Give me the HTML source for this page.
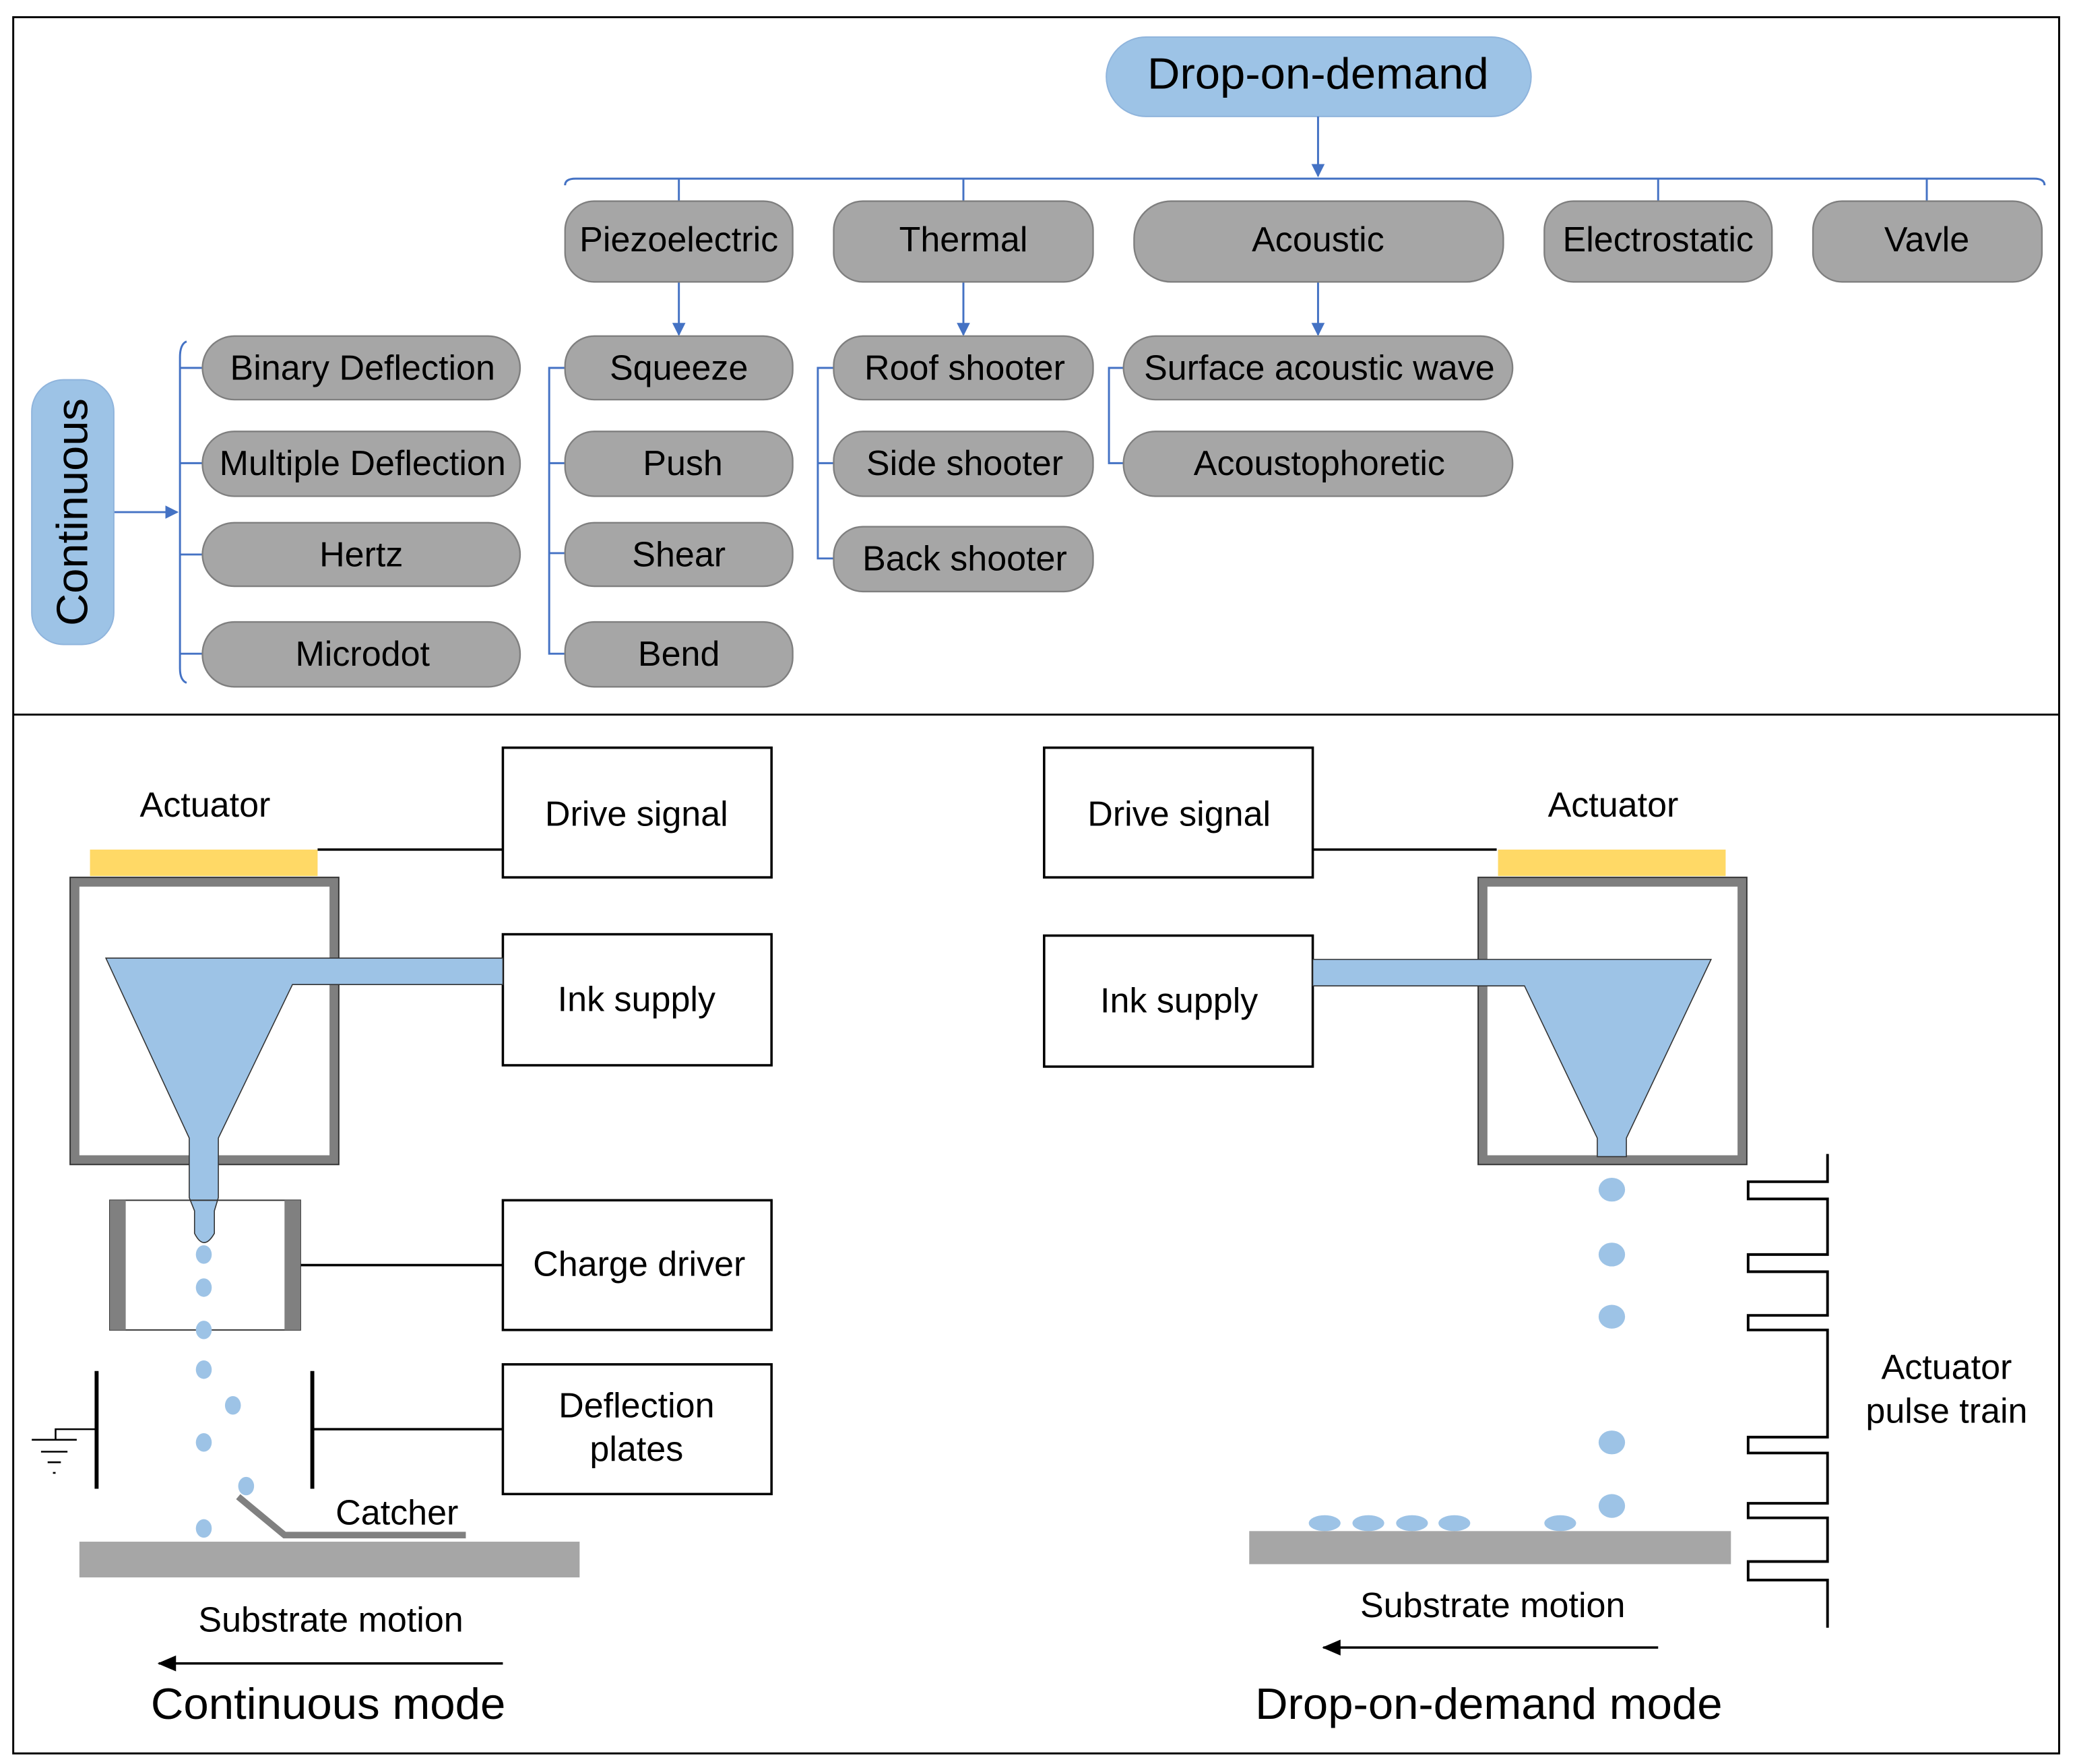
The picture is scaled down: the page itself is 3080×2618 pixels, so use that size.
<!DOCTYPE html>
<html><head><meta charset="utf-8"><style>
html,body{margin:0;padding:0;background:#fff}
svg{display:block}
text{font-family:"Liberation Sans",Arial,sans-serif;fill:#000}
</style></head><body>
<svg width="3080" height="2618" viewBox="0 0 1568 1333" preserveAspectRatio="none" xmlns="http://www.w3.org/2000/svg">
<defs>
<marker id="ab" markerWidth="10" markerHeight="10" refX="9" refY="5" orient="auto" markerUnits="userSpaceOnUse"><path d="M0,0 L10,5 L0,10 z" fill="#4472c4"/></marker>
<marker id="ak" markerWidth="14" markerHeight="12" refX="13" refY="6" orient="auto" markerUnits="userSpaceOnUse"><path d="M0,0 L14,6 L0,12 z" fill="#000"/></marker>
</defs>
<rect x="0" y="0" width="1568" height="1333" fill="#fff"/>
<rect x="10" y="13" width="1546" height="1312" fill="none" stroke="#000" stroke-width="1.5"/>
<line x1="10" y1="540" x2="1556" y2="540" stroke="#000" stroke-width="1.5"/>

<rect x="836" y="28" width="321" height="60" rx="30" fill="#9dc3e6" stroke="#8fb4dc"/>
<text x="996" y="67" font-size="33" text-anchor="middle" textLength="258" lengthAdjust="spacingAndGlyphs">Drop-on-demand</text>
<g stroke="#4472c4" stroke-width="1.5" fill="none">
<line x1="996" y1="88" x2="996" y2="133" marker-end="url(#ab)"/>
<path d="M427,140 Q427,135 435,135 L1537,135 Q1545,135 1545,140"/>
<line x1="513" y1="135" x2="513" y2="152"/><line x1="728" y1="135" x2="728" y2="152"/>
<line x1="1253" y1="135" x2="1253" y2="152"/><line x1="1456" y1="135" x2="1456" y2="152"/>
<line x1="513" y1="213" x2="513" y2="253" marker-end="url(#ab)"/>
<line x1="728" y1="213" x2="728" y2="253" marker-end="url(#ab)"/>
<line x1="996" y1="213" x2="996" y2="253" marker-end="url(#ab)"/>
<path d="M427,278 L415,278 L415,494 L427,494 M415,350 L427,350 M415,418 L427,418"/>
<path d="M630,278 L618,278 L618,422 L630,422 M618,350 L630,350"/>
<path d="M849,278 L838,278 L838,350 L849,350"/>
<path d="M141,258 Q136,260 136,270 L136,505 Q136,514 141,516 M136,278 L153,278 M136,350 L153,350 M136,419 L153,419 M136,494 L153,494"/>
<line x1="86" y1="387" x2="134" y2="387" marker-end="url(#ab)"/>
</g>
<rect x="24" y="287" width="62" height="200" rx="24" fill="#9dc3e6" stroke="#8fb4dc"/>
<text transform="translate(66,387) rotate(-90)" font-size="33" text-anchor="middle" textLength="172" lengthAdjust="spacingAndGlyphs">Continuous</text>
<g fill="#a6a6a6" stroke="#7f7f7f" stroke-width="1.2">
<rect x="427" y="152" width="172" height="61" rx="22"/>
<rect x="630" y="152" width="196" height="61" rx="22"/>
<rect x="857" y="152" width="279" height="61" rx="28"/>
<rect x="1167" y="152" width="172" height="61" rx="22"/>
<rect x="1370" y="152" width="173" height="61" rx="22"/>
<rect x="153" y="254" width="240" height="48" rx="24"/>
<rect x="153" y="326" width="240" height="49" rx="24"/>
<rect x="153" y="395" width="240" height="48" rx="24"/>
<rect x="153" y="470" width="240" height="49" rx="24"/>
<rect x="427" y="254" width="172" height="48" rx="22"/>
<rect x="427" y="326" width="172" height="49" rx="22"/>
<rect x="427" y="395" width="172" height="48" rx="22"/>
<rect x="427" y="470" width="172" height="49" rx="22"/>
<rect x="630" y="254" width="196" height="48" rx="22"/>
<rect x="630" y="326" width="196" height="49" rx="22"/>
<rect x="630" y="398" width="196" height="49" rx="22"/>
<rect x="849" y="254" width="294" height="48" rx="24"/>
<rect x="849" y="326" width="294" height="49" rx="24"/>
</g>
<g font-size="26.5" text-anchor="middle">
<text x="513" y="190">Piezoelectric</text><text x="728" y="190">Thermal</text>
<text x="996" y="190">Acoustic</text><text x="1253" y="190">Electrostatic</text>
<text x="1456" y="190">Vavle</text>
<text x="274" y="287">Binary Deflection</text><text x="274" y="359">Multiple Deflection</text>
<text x="273" y="428">Hertz</text><text x="274" y="503">Microdot</text>
<text x="513" y="287">Squeeze</text><text x="516" y="359">Push</text>
<text x="513" y="428">Shear</text><text x="513" y="503">Bend</text>
<text x="729" y="287">Roof shooter</text><text x="729" y="359">Side shooter</text>
<text x="729" y="431">Back shooter</text>
<text x="997" y="287">Surface acoustic wave</text><text x="997" y="359">Acoustophoretic</text>
</g>

<g font-size="26.5" text-anchor="middle">
<text x="155" y="617">Actuator</text>
<text x="481" y="624">Drive signal</text>
<text x="481" y="764">Ink supply</text>
<text x="483" y="964">Charge driver</text>
<text x="481" y="1071">Deflection</text><text x="481" y="1104">plates</text>
<text x="300" y="1152">Catcher</text>
<text x="250" y="1233">Substrate motion</text>
<text x="1219" y="617">Actuator</text>
<text x="891" y="624">Drive signal</text>
<text x="891" y="765">Ink supply</text>
<text x="1128" y="1222">Substrate motion</text>
<text x="1471" y="1042">Actuator</text><text x="1471" y="1075">pulse train</text>
</g>
<g font-size="33" text-anchor="middle">
<text x="248" y="1299" textLength="268" lengthAdjust="spacingAndGlyphs">Continuous mode</text>
<text x="1125" y="1299" textLength="353" lengthAdjust="spacingAndGlyphs">Drop-on-demand mode</text>
</g>
<g fill="none" stroke="#000" stroke-width="1.8">
<rect x="380" y="565" width="203" height="98"/>
<rect x="380" y="706" width="203" height="99"/>
<rect x="380" y="907" width="203" height="98"/>
<rect x="380" y="1031" width="203" height="98"/>
<rect x="789" y="565" width="203" height="98"/>
<rect x="789" y="707" width="203" height="99"/>
<line x1="240" y1="642" x2="380" y2="642"/>
<line x1="992" y1="642" x2="1131" y2="642"/>
<line x1="227" y1="956" x2="380" y2="956"/>
<line x1="236" y1="1080" x2="380" y2="1080"/>
<line x1="73" y1="1036" x2="73" y2="1125" stroke-width="3"/>
<line x1="236" y1="1036" x2="236" y2="1125" stroke-width="3"/>
<path d="M73,1080 L42,1080 L42,1088 M24,1088 L58,1088 M31,1097 L51,1097 M36,1105 L46,1105 M40,1113 L42,1113" stroke-width="1.3"/>
<line x1="380" y1="1257" x2="120" y2="1257" marker-end="url(#ak)"/>
<line x1="1253" y1="1245" x2="1000" y2="1245" marker-end="url(#ak)"/>
<path d="M1381,872 L1381,893 L1321,893 L1321,906 L1381,906 L1381,948 L1321,948 L1321,961 L1381,961 L1381,994 L1321,994 L1321,1005 L1381,1005 L1381,1086 L1321,1086 L1321,1098 L1381,1098 L1381,1136 L1321,1136 L1321,1147 L1381,1147 L1381,1180 L1321,1180 L1321,1194 L1381,1194 L1381,1230" stroke-width="2"/>
</g>
<rect x="68" y="642" width="172" height="20" fill="#ffd966"/>
<rect x="1132" y="642" width="172" height="20" fill="#ffd966"/>
<rect x="56.5" y="666.5" width="196" height="210" fill="none" stroke="#7f7f7f" stroke-width="7"/>
<rect x="53" y="663" width="203" height="217" fill="none" stroke="#333" stroke-width="1"/>
<rect x="1120.5" y="666.5" width="196" height="210" fill="none" stroke="#7f7f7f" stroke-width="7"/>
<rect x="1117" y="663" width="203" height="217" fill="none" stroke="#333" stroke-width="1"/>
<path d="M80,724 L380,724 L380,744 L221,744 L165,860 L165,905 L162,915 L162,932 Q154,946 147,932 L147,915 L143,905 L143,860 Z" fill="#9dc3e6" stroke="#333" stroke-width="0.8"/>
<rect x="83" y="907" width="144" height="98" fill="none" stroke="#333" stroke-width="1"/>
<rect x="83" y="907" width="12" height="98" fill="#808080"/>
<rect x="215" y="907" width="12" height="98" fill="#808080"/>
<g fill="#9dc3e6">
<ellipse cx="154" cy="948" rx="6" ry="7"/><ellipse cx="154" cy="973" rx="6" ry="7"/>
<ellipse cx="154" cy="1005" rx="6" ry="7"/><ellipse cx="154" cy="1035" rx="6" ry="7"/>
<ellipse cx="176" cy="1062" rx="6" ry="7"/><ellipse cx="154" cy="1090" rx="6" ry="7"/>
<ellipse cx="186" cy="1123" rx="6" ry="7"/><ellipse cx="154" cy="1155" rx="6" ry="7"/>
</g>
<polyline points="180,1131 215,1160 352,1160" fill="none" stroke="#808080" stroke-width="5"/>
<rect x="60" y="1165" width="378" height="27" fill="#a6a6a6"/>
<path d="M992,725 L1293,725 L1229,860 L1229,874 L1207,874 L1207,860 L1152,745 L992,745 Z" fill="#9dc3e6" stroke="#333" stroke-width="0.8"/>
<g fill="#9dc3e6">
<ellipse cx="1218" cy="899" rx="10" ry="9"/><ellipse cx="1218" cy="948" rx="10" ry="9"/>
<ellipse cx="1218" cy="995" rx="10" ry="9"/><ellipse cx="1218" cy="1090" rx="10" ry="9"/>
<ellipse cx="1218" cy="1138" rx="10" ry="9"/>
<ellipse cx="1001" cy="1151" rx="12" ry="6"/><ellipse cx="1034" cy="1151" rx="12" ry="6"/>
<ellipse cx="1067" cy="1151" rx="12" ry="6"/><ellipse cx="1099" cy="1151" rx="12" ry="6"/>
<ellipse cx="1179" cy="1151" rx="12" ry="6"/>
</g>
<rect x="944" y="1157" width="364" height="25" fill="#a6a6a6"/>
</svg>
</body></html>
